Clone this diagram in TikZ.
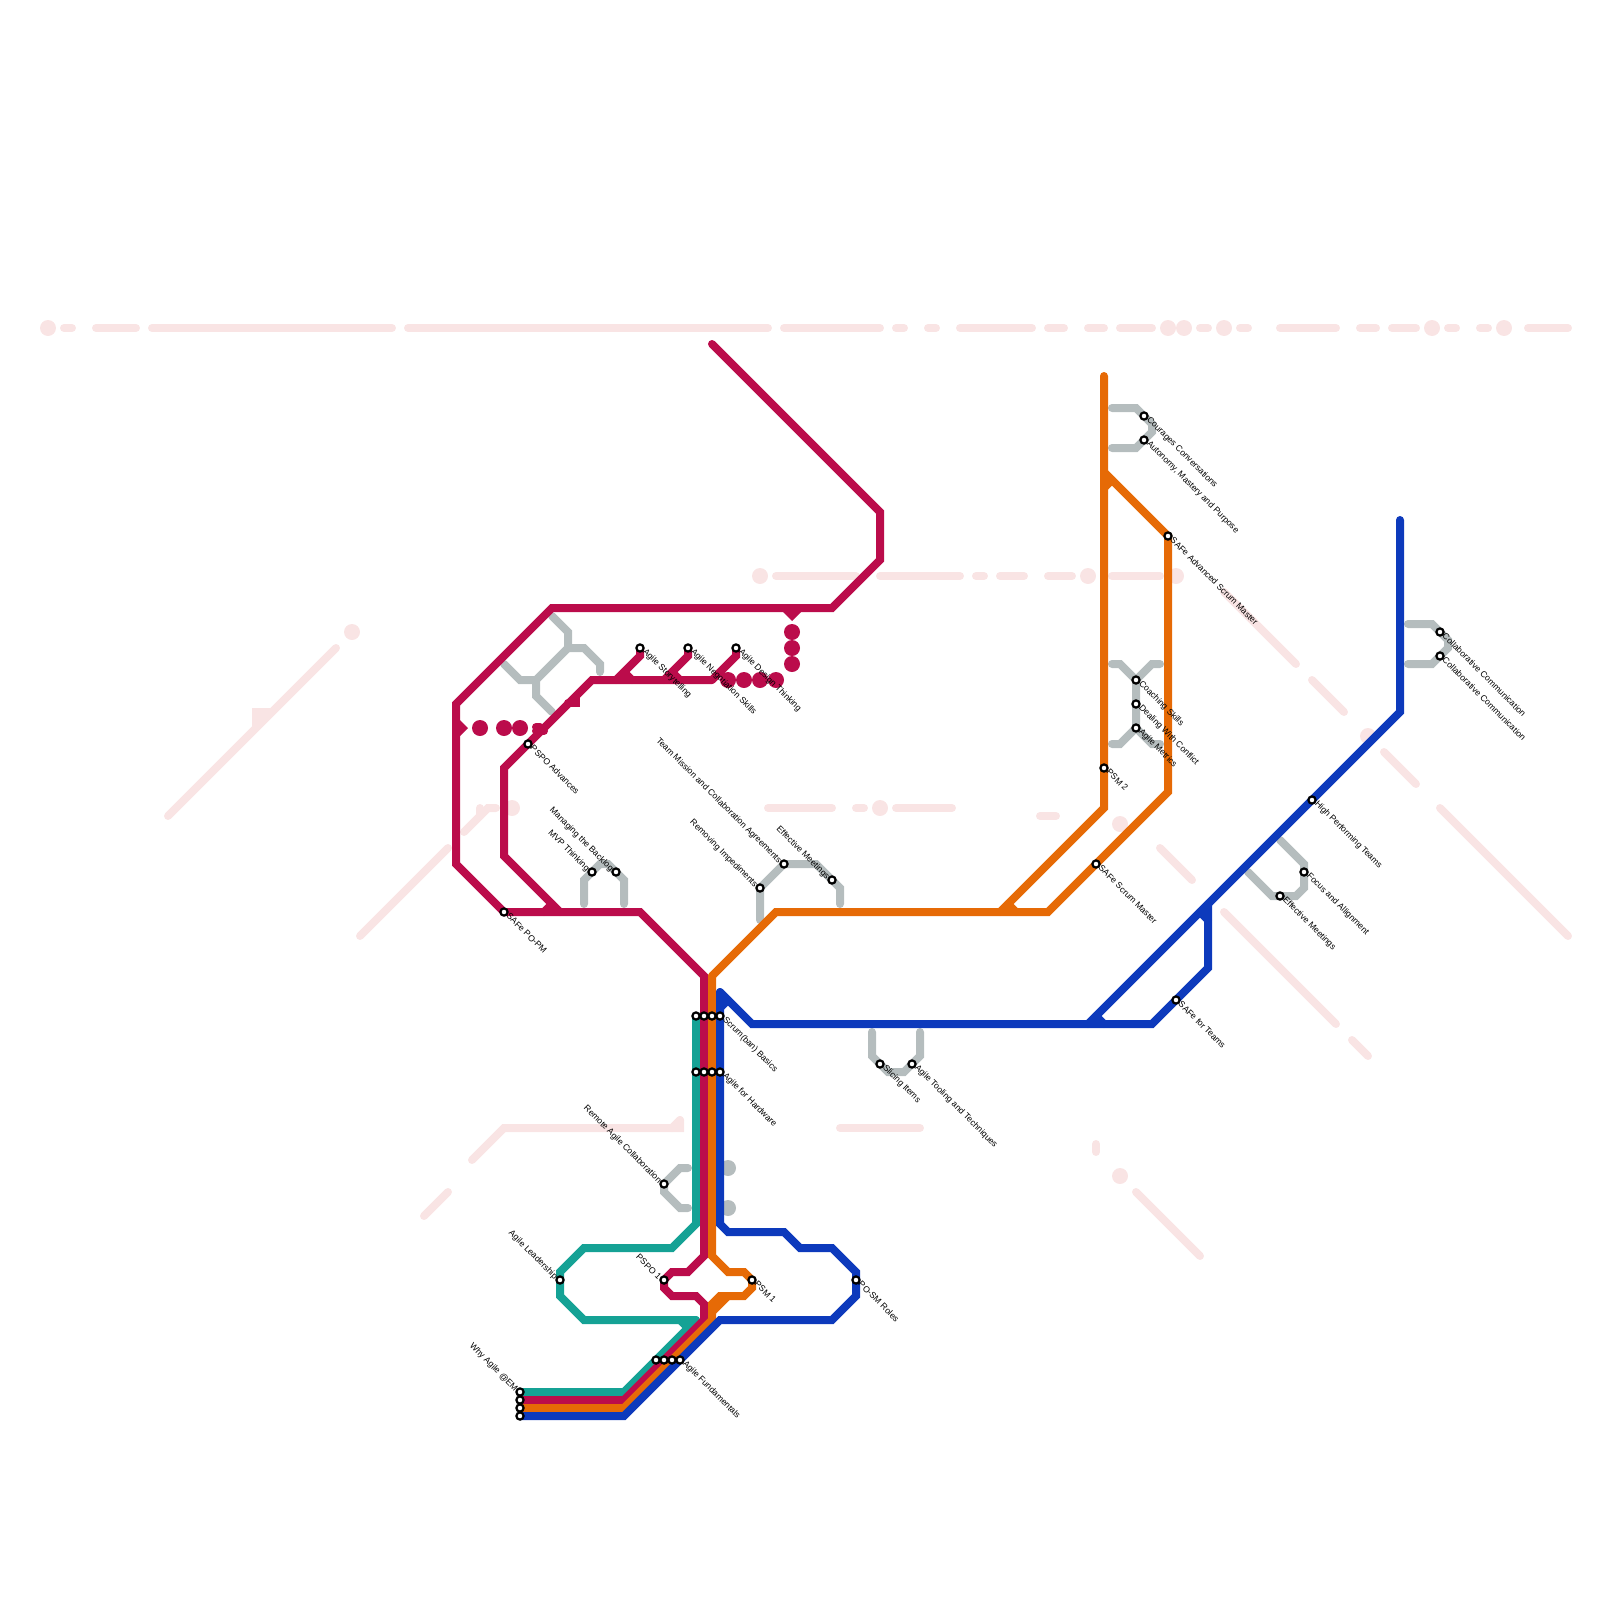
\documentclass[tikz,border=0pt]{standalone}
\usepackage{fontspec}
\setmainfont{Liberation Sans}
\definecolor{palepink}{HTML}{F9E4E4}
\definecolor{railgray}{HTML}{B5BDBE}
\definecolor{railred}{HTML}{BB0C4B}
\definecolor{railorange}{HTML}{E66A06}
\definecolor{railblue}{HTML}{0D3ABC}
\definecolor{railteal}{HTML}{15A295}
\begin{document}
\begin{tikzpicture}[x=1pt, y=-1pt, line cap=round,
	rail/.style={line width=8pt},
	stn/.style={circle, draw=black, fill=white, line width=2.2pt, minimum size=7.2pt, inner sep=0pt, outer sep=0pt},
	lbr/.style={rotate=-45, anchor=west, inner sep=0pt, xshift=-1pt, yshift=1pt, font=\fontsize{8.7}{10}\selectfont},
	lbl/.style={rotate=-45, anchor=east, inner sep=0pt, xshift=1.5pt, yshift=-1.5pt, font=\fontsize{8.7}{10}\selectfont}]
	\useasboundingbox (0,0) rectangle (1600,1600);

	% 1. pale background lines
	\begin{scope}[rail, color=palepink]
		\fill (48,328) circle (8);
		\draw (64,328) -- (72,328);
		\draw (96,328) -- (136,328);
		\draw (152,328) -- (392,328);
		\draw (408,328) -- (768,328);
		\draw (784,328) -- (880,328);
		\draw (896,328) -- (904,328);
		\draw (928,328) -- (936,328);
		\draw (960,328) -- (1032,328);
		\draw (1048,328) -- (1064,328);
		\draw (1088,328) -- (1104,328);
		\draw (1120,328) -- (1152,328);
		\fill (1168,328) circle (8);
		\fill (1184,328) circle (8);
		\draw (1200,328) -- (1208,328);
		\fill (1224,328) circle (8);
		\draw (1240,328) -- (1248,328);
		\draw (1280,328) -- (1336,328);
		\draw (1360,328) -- (1376,328);
		\draw (1392,328) -- (1416,328);
		\fill (1432,328) circle (8);
		\draw (1448,328) -- (1456,328);
		\draw (1480,328) -- (1488,328);
		\fill (1504,328) circle (8);
		\draw (1528,328) -- (1568,328);

		\fill (760,576) circle (8);
		\draw (776,576) -- (856,576);
		\draw (880,576) -- (960,576);
		\draw (976,576) -- (984,576);
		\draw (1000,576) -- (1024,576);
		\draw (1048,576) -- (1072,576);
		\fill (1088,576) circle (8);
		\draw (1112,576) -- (1160,576);
		\fill (1176,576) circle (8);
		\draw (1224,592) -- (1296,664);
		\draw (1312,680) -- (1344,712);
		\fill (1368,736) circle (8);
		\draw (1384,752) -- (1416,784);
		\draw (1440,808) -- (1568,936);

		\draw (768,808) -- (832,808);
		\draw (856,808) -- (864,808);
		\fill (880,808) circle (8);
		\draw (896,808) -- (952,808);
		\draw (1040,816) -- (1056,816);
		\fill (1120,824) circle (8);
		\draw (1160,848) -- (1192,880);
		\draw (1224,912) -- (1336,1024);
		\draw (1352,1040) -- (1368,1056);

		\fill (352,632) circle (8);
		\draw (336,648) -- (168,816);
		\draw[fill=palepink] (256,712) -- (268,712) -- (256,724) -- cycle;
		\draw (360,936) -- (448,848);
		\draw (464,832) -- (488,808) -- (496,808);
		\draw (480,808) -- (480,816);
		\fill (512,808) circle (8);
		\draw (424,1216) -- (448,1192);
		\draw (472,1160) -- (504,1128) -- (680,1128) -- (680,1120);
		\draw (680,1120) -- (672,1128);
		\draw (840,1128) -- (920,1128);
		\draw (1096,1144) -- (1096,1152);
		\fill (1120,1176) circle (8);
		\draw (1136,1192) -- (1200,1256);
	\end{scope}

	% 2. gray side branches
	\begin{scope}[rail, color=railgray]
		\draw (552,616) -- (568,632) -- (568,648) -- (584,648) -- (600,664) -- (600,672);
		\draw (568,648) -- (536,680) -- (536,696) -- (552,712);
		\draw (504,664) -- (520,680) -- (536,680);
		\draw (584,904) -- (584,880) -- (600,864) -- (608,864) -- (624,880) -- (624,904);
		\draw (760,920) -- (760,888) -- (784,864) -- (816,864) -- (840,888) -- (840,904);
		\draw (872,1032) -- (872,1056) -- (888,1072) -- (904,1072) -- (920,1056) -- (920,1032);
		\draw (688,1168) -- (680,1168) -- (664,1184) -- (664,1192) -- (680,1208) -- (688,1208);
		\fill (728,1168) circle (8);
		\fill (728,1208) circle (8);
		\draw (1112,408) -- (1136,408) -- (1152,424) -- (1152,432) -- (1136,448) -- (1112,448);
		\draw (1112,664) -- (1120,664) -- (1136,680) -- (1136,728) -- (1120,744) -- (1112,744);
		\draw (1136,680) -- (1152,664) -- (1160,664);
		\draw (1136,728) -- (1152,744) -- (1160,744);
		\draw (1408,624) -- (1432,624) -- (1448,640) -- (1448,648) -- (1432,664) -- (1408,664);
		\draw (1280,840) -- (1304,864) -- (1304,888) -- (1296,896) -- (1272,896) -- (1248,872);
	\end{scope}

	% 3. teal line
	\draw[rail, color=railteal] (696,1016) -- (696,1224) -- (672,1248) -- (584,1248) -- (560,1272) -- (560,1296) -- (584,1320) -- (696,1320);
	\draw[rail, color=railteal] (696,1320) -- (624,1392) -- (520,1392);
	\draw[rail, color=railteal] (680,1320) -- (688,1328);

	% 4. red lines
	\begin{scope}[rail, color=railred]
		\draw (712,344) -- (880,512) -- (880,560) -- (832,608) -- (552,608) -- (456,704) -- (456,864) -- (504,912) -- (640,912) -- (704,976) -- (704,1256) -- (688,1272) -- (672,1272) -- (664,1280) -- (664,1288) -- (672,1296) -- (696,1296) -- (704,1304) -- (704,1320) -- (624,1400) -- (520,1400);
		\draw (560,912) -- (504,856) -- (504,768) -- (592,680) -- (712,680);
		\draw (552,904) -- (544,912);
		\draw (640,648) -- (640,656) -- (616,680);
		\draw (624,672) -- (632,680);
		\draw (688,648) -- (688,656) -- (664,680);
		\draw (672,672) -- (680,680);
		\draw (736,648) -- (736,656) -- (712,680);
		\draw (536,727) -- (540,727);
		\draw (536,731) -- (544,731);
		\draw (568,703) -- (576,703) -- (576,698);
		\fill (728,680) circle (8);
		\fill (744,680) circle (8);
		\fill (760,680) circle (8);
		\fill (776,680) circle (8);
		\fill (792,632) circle (8);
		\fill (792,648) circle (8);
		\fill (792,664) circle (8);
		\fill (480,728) circle (8);
		\fill (504,728) circle (8);
		\fill (520,728) circle (8);
		\fill (456,716) -- (468,728) -- (456,740) -- cycle;
		\fill (782,611) -- (792,621) -- (802,611) -- cycle;
	\end{scope}

	% 5. orange lines
	\begin{scope}[rail, color=railorange]
		\draw (1104,376) -- (1104,808) -- (1000,912);
		\draw (1008,904) -- (1016,912);
		\draw (712,976) -- (776,912) -- (1048,912) -- (1168,792) -- (1168,536) -- (1104,472);
		\draw (1112,480) -- (1104,488);
		\draw (712,976) -- (712,1256) -- (728,1272) -- (744,1272) -- (752,1280) -- (752,1288) -- (744,1296) -- (720,1296) -- (712,1304) -- (712,1320) -- (624,1408) -- (520,1408);
		\draw (728,1296) -- (712,1312);
	\end{scope}

	% 6. blue line
	\begin{scope}[rail, color=railblue]
		\draw (1400,520) -- (1400,712) -- (1088,1024);
		\draw (1096,1016) -- (1104,1024);
		\draw (720,992) -- (752,1024) -- (1152,1024) -- (1208,968) -- (1208,904);
		\draw (1200,912) -- (1208,920);
		\draw (720,992) -- (720,1224) -- (728,1232) -- (784,1232) -- (800,1248) -- (832,1248) -- (856,1272) -- (856,1296) -- (832,1320) -- (720,1320) -- (624,1416) -- (520,1416);
		\draw (728,1000) -- (720,1008);
	\end{scope}

	% 7. stations and their labels
	\node[stn] (whyA) at (520,1392) {};
	\node[stn] (whyB) at (520,1400) {};
	\node[stn] (whyC) at (520,1408) {};
	\node[stn] (whyD) at (520,1416) {};
	\node[lbl] (whyT) at (516,1388) {Why Agile @EM};
	\node[stn] (fundA) at (656,1360) {};
	\node[stn] (fundB) at (664,1360) {};
	\node[stn] (fundC) at (672,1360) {};
	\node[stn] (fundD) at (680,1360) {};
	\node[lbr] (fundT) at (684,1364) {Agile Fundamentals};
	\node[stn] (lead) at (560,1280) {};
	\node[lbl] (leadT) at (556,1276) {Agile Leadership};
	\node[stn] (pspoA) at (664,1280) {};
	\node[lbl] (pspoAT) at (660,1276) {PSPO 1};
	\node[stn] (psmA) at (752,1280) {};
	\node[lbr] (psmAT) at (756,1284) {PSM 1};
	\node[stn] (posm) at (856,1280) {};
	\node[lbr] (posmT) at (860,1284) {PO-SM Roles};
	\node[stn] (remote) at (664,1184) {};
	\node[lbl] (remoteT) at (660,1180) {Remote Agile Collaboration};
	\node[stn] (scrumA) at (696,1016) {};
	\node[stn] (scrumB) at (704,1016) {};
	\node[stn] (scrumC) at (712,1016) {};
	\node[stn] (scrumD) at (720,1016) {};
	\node[lbr] (scrumT) at (724,1020) {Scrum(ban) Basics};
	\node[stn] (hardA) at (696,1072) {};
	\node[stn] (hardB) at (704,1072) {};
	\node[stn] (hardC) at (712,1072) {};
	\node[stn] (hardD) at (720,1072) {};
	\node[lbr] (hardT) at (724,1076) {Agile for Hardware};
	\node[stn] (slice) at (880,1064) {};
	\node[lbr] (sliceT) at (884,1068) {Slicing Items};
	\node[stn] (tool) at (912,1064) {};
	\node[lbr] (toolT) at (916,1068) {Agile Tooling and Techniques};
	\node[stn] (sfpo) at (504,912) {};
	\node[lbr] (sfpoT) at (508,916) {SAFe PO-PM};
	\node[stn] (pspoB) at (528,744) {};
	\node[lbr] (pspoBT) at (532,748) {PSPO Advances};
	\node[stn] (mvp) at (592,872) {};
	\node[lbl] (mvpT) at (588,868) {MVP Thinking};
	\node[stn] (back) at (616,872) {};
	\node[lbl] (backT) at (612,868) {Managing the Backlog};
	\node[stn] (story) at (640,648) {};
	\node[lbr] (storyT) at (644,652) {Agile Storytelling};
	\node[stn] (nego) at (688,648) {};
	\node[lbr] (negoT) at (692,652) {Agile Negotiation Skills};
	\node[stn] (design) at (736,648) {};
	\node[lbr] (designT) at (740,652) {Agile Design Thinking};
	\node[stn] (remove) at (760,888) {};
	\node[lbl] (removeT) at (756,884) {Removing Impediments};
	\node[stn] (mission) at (784,864) {};
	\node[lbl] (missionT) at (780,860) {Team Mission and Collaboration Agreements};
	\node[stn] (meetA) at (832,880) {};
	\node[lbl] (meetAT) at (828,876) {Effective Meetings};
	\node[stn] (courage) at (1144,416) {};
	\node[lbr] (courageT) at (1148,420) {Courages Conversations};
	\node[stn] (autonomy) at (1144,440) {};
	\node[lbr] (autonomyT) at (1148,444) {Autonomy, Mastery and Purpose};
	\node[stn] (sfasm) at (1168,536) {};
	\node[lbr] (sfasmT) at (1172,540) {SAFe Advanced Scrum Master};
	\node[stn] (coach) at (1136,680) {};
	\node[lbr] (coachT) at (1140,684) {Coaching Skills};
	\node[stn] (conflict) at (1136,704) {};
	\node[lbr] (conflictT) at (1140,708) {Dealing With Conflict};
	\node[stn] (metric) at (1136,728) {};
	\node[lbr] (metricT) at (1140,732) {Agile Metrics};
	\node[stn] (psmB) at (1104,768) {};
	\node[lbr] (psmBT) at (1108,772) {PSM 2};
	\node[stn] (sfsm) at (1096,864) {};
	\node[lbr] (sfsmT) at (1100,868) {SAFe Scrum Master};
	\node[stn] (colA) at (1440,632) {};
	\node[lbr] (colAT) at (1444,636) {Collaborative Communication};
	\node[stn] (colB) at (1440,656) {};
	\node[lbr] (colBT) at (1444,660) {Collaborative Communication};
	\node[stn] (high) at (1312,800) {};
	\node[lbr] (highT) at (1316,804) {High Performing Teams};
	\node[stn] (focus) at (1304,872) {};
	\node[lbr] (focusT) at (1308,876) {Focus and Allignment};
	\node[stn] (meetB) at (1280,896) {};
	\node[lbr] (meetBT) at (1284,900) {Effective Meetings};
	\node[stn] (sfteam) at (1176,1000) {};
	\node[lbr] (sfteamT) at (1180,1004) {SAFe for Teams};
\end{tikzpicture}
\end{document}
